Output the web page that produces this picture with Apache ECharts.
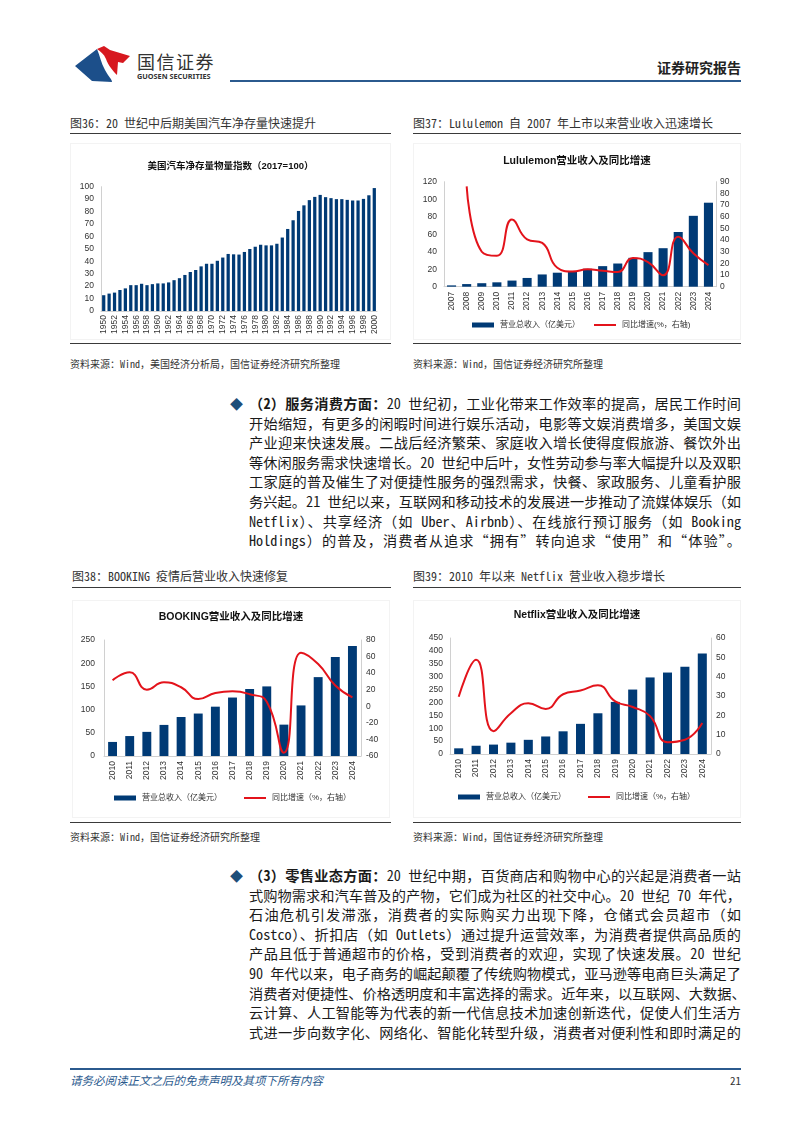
<!DOCTYPE html>
<html><head><meta charset="utf-8">
<script src="https://cdn.jsdelivr.net/npm/echarts@6/dist/echarts.min.js"></script>
<style>
html,body{margin:0;padding:0;background:#fff;}
body{width:811px;height:1131px;position:relative;overflow:hidden;font-family:"Noto Sans Mono CJK SC","Noto Sans CJK SC",sans-serif;color:#222;}
.abs{position:absolute;}
.cap{position:absolute;font-size:12px;line-height:16px;color:#333;white-space:nowrap;}
.rule{position:absolute;height:1px;background:#3a3a3a;}
.src{position:absolute;font-size:10px;line-height:14px;color:#333;white-space:nowrap;}
.ln{position:absolute;left:249px;width:492px;font-size:14.2px;line-height:19.6px;height:19.6px;text-align:justify;text-align-last:justify;white-space:nowrap;overflow:visible;color:#1a1a1a;}
.chart{position:absolute;border:1px solid #f3f3f3;box-sizing:border-box;}
b{font-weight:bold;}
</style></head>
<body>
<!-- header -->
<svg class="abs" style="left:0;top:0" width="811" height="100">
  <path d="M75,66 L97,49 C100,56 101,63 105,70 C108,76 112,79 112,82 L92,81 Z" fill="#1c4f8a"/>
  <path d="M97,49 L104,46 L110,50 L130,56 L123,63 L118,62 L117,75 C113,71 108,65 106,59 C104,54 100,51 97,49 Z" fill="#d7181f"/>
</svg>
<div class="abs" style="left:137px;top:49px;font-size:18px;line-height:24px;color:#333;letter-spacing:1.5px;font-family:'Noto Sans CJK SC';">国信证券</div>
<div class="abs" style="left:137px;top:71px;font-size:7.3px;line-height:10px;color:#333;font-weight:bold;font-family:'Noto Sans',sans-serif;white-space:nowrap;">GUOSEN SECURITIES</div>
<div class="abs" style="right:70px;top:58px;font-size:14px;line-height:18px;font-weight:bold;color:#222;font-family:'Noto Sans CJK SC';">证券研究报告</div>
<div class="abs" style="left:230px;top:80px;width:511px;height:2px;background:#2b5a8e;"></div>

<!-- captions top -->
<div class="cap" style="left:70px;top:115px;">图36：20 世纪中后期美国汽车净存量快速提升</div>
<div class="rule" style="left:70px;top:133px;width:321px;"></div>
<div class="cap" style="left:413px;top:115px;">图37：Lululemon 自 2007 年上市以来营业收入迅速增长</div>
<div class="rule" style="left:413px;top:133px;width:328px;"></div>

<div id="c1" class="chart" style="left:70px;top:143px;width:321px;height:197px;"></div>
<div id="c2" class="chart" style="left:413px;top:143px;width:328px;height:197px;"></div>

<div class="rule" style="left:70px;top:343px;width:321px;"></div>
<div class="rule" style="left:413px;top:343px;width:328px;"></div>
<div class="src" style="left:70px;top:357px;">资料来源：Wind，美国经济分析局，国信证券经济研究所整理</div>
<div class="src" style="left:413px;top:357px;">资料来源：Wind，国信证券经济研究所整理</div>

<!-- paragraph 2 -->
<div class="abs" style="left:230px;top:394px;font-size:13px;line-height:19.6px;color:#1f4e79;">◆</div>
<div class="ln" style="top:394px;"><b>（2）服务消费方面：</b>20 世纪初，工业化带来工作效率的提高，居民工作时间</div>
<div class="ln" style="top:413.6px;">开始缩短，有更多的闲暇时间进行娱乐活动，电影等文娱消费增多，美国文娱</div>
<div class="ln" style="top:433.2px;">产业迎来快速发展。二战后经济繁荣、家庭收入增长使得度假旅游、餐饮外出</div>
<div class="ln" style="top:452.8px;">等休闲服务需求快速增长。20 世纪中后叶，女性劳动参与率大幅提升以及双职</div>
<div class="ln" style="top:472.4px;">工家庭的普及催生了对便捷性服务的强烈需求，快餐、家政服务、儿童看护服</div>
<div class="ln" style="top:492px;">务兴起。21 世纪以来，互联网和移动技术的发展进一步推动了流媒体娱乐（如</div>
<div class="ln" style="top:511.6px;">Netflix）、共享经济（如 Uber、Airbnb）、在线旅行预订服务（如 Booking</div>
<div class="ln" style="top:531.2px;">Holdings）的普及，消费者从追求“拥有”转向追求“使用”和“体验”。</div>

<!-- captions bottom -->
<div class="cap" style="left:72px;top:568px;">图38：BOOKING 疫情后营业收入快速修复</div>
<div class="rule" style="left:72px;top:587px;width:319px;"></div>
<div class="cap" style="left:413px;top:568px;">图39：2010 年以来 Netflix 营业收入稳步增长</div>
<div class="rule" style="left:413px;top:587px;width:328px;"></div>

<div id="c3" class="chart" style="left:72px;top:600px;width:318px;height:218px;"></div>
<div id="c4" class="chart" style="left:413px;top:600px;width:328px;height:218px;"></div>

<div class="rule" style="left:70px;top:822px;width:321px;"></div>
<div class="rule" style="left:413px;top:822px;width:328px;"></div>
<div class="src" style="left:70px;top:830px;">资料来源：Wind，国信证券经济研究所整理</div>
<div class="src" style="left:413px;top:830px;">资料来源：Wind，国信证券经济研究所整理</div>

<!-- paragraph 3 -->
<div class="abs" style="left:230px;top:866px;font-size:13px;line-height:19.6px;color:#1f4e79;">◆</div>
<div class="ln" style="top:866px;"><b>（3）零售业态方面：</b>20 世纪中期，百货商店和购物中心的兴起是消费者一站</div>
<div class="ln" style="top:885.6px;">式购物需求和汽车普及的产物，它们成为社区的社交中心。20 世纪 70 年代，</div>
<div class="ln" style="top:905.2px;">石油危机引发滞涨，消费者的实际购买力出现下降，仓储式会员超市（如</div>
<div class="ln" style="top:924.8px;">Costco）、折扣店（如 Outlets）通过提升运营效率，为消费者提供高品质的</div>
<div class="ln" style="top:944.4px;">产品且低于普通超市的价格，受到消费者的欢迎，实现了快速发展。20 世纪</div>
<div class="ln" style="top:964px;">90 年代以来，电子商务的崛起颠覆了传统购物模式，亚马逊等电商巨头满足了</div>
<div class="ln" style="top:983.6px;">消费者对便捷性、价格透明度和丰富选择的需求。近年来，以互联网、大数据、</div>
<div class="ln" style="top:1003.2px;">云计算、人工智能等为代表的新一代信息技术加速创新迭代，促使人们生活方</div>
<div class="ln" style="top:1022.8px;">式进一步向数字化、网络化、智能化转型升级，消费者对便利性和即时满足的</div>

<!-- footer -->
<div class="abs" style="left:70px;top:1068px;width:671px;height:1.5px;background:#2b5a8e;"></div>
<div class="abs" style="left:70px;top:1072px;font-size:11.5px;line-height:16px;font-style:italic;color:#2b5a8e;font-family:'Noto Sans CJK SC';">请务必阅读正文之后的免责声明及其项下所有内容</div>
<div class="abs" style="right:70px;top:1072px;font-size:11px;line-height:16px;color:#333;">21</div>

<script>
// ---------- data ----------
const carYears = ['1950','1951','1952','1953','1954','1955','1956','1957','1958','1959',
  '1960','1961','1962','1963','1964','1965','1966','1967','1968','1969',
  '1970','1971','1972','1973','1974','1975','1976','1977','1978','1979',
  '1980','1981','1982','1983','1984','1985','1986','1987','1988','1989',
  '1990','1991','1992','1993','1994','1995','1996','1997','1998','1999','2000'];
const carIndex = [12.7,14,14.8,16.9,18.2,20.8,20.8,21.9,20.8,21.6,
  22.2,22.2,23,24.8,26.4,29,31.4,33,35.9,38,
  38,40.4,43,45.9,45.6,45.4,47.5,49.9,51.7,53.3,
  52.8,52.8,54.1,59.1,66,73,80.5,85,89.2,91.8,
  93.4,91.6,90.8,90,90,89.4,88.9,88.9,90.2,93.1,98.9];

const luluYears = ['2007','2008','2009','2010','2011','2012','2013','2014','2015','2016','2017','2018','2019','2020','2021','2022','2023','2024'];
const luluRevenue = [1.5,3,4,5,7,10,14,16,18,20.5,23.5,26.5,33,39.5,44,62.5,81,96];
const luluGrowth = [null,86,30,26.5,57.5,40.5,37.5,16.3,13,14.9,13.7,12.6,24.7,21,9.8,42.9,28.6,18.5];

const bkYears = ['2010','2011','2012','2013','2014','2015','2016','2017','2018','2019','2020','2021','2022','2023','2024'];
const bkRevenue = [30.3,43,52,67,84,91.5,106.3,126,144.4,150,67.6,109,170,213.4,237.3];
const bkGrowth = [31.5,41,20,29,23,8.7,16,18,14.6,5.5,-56,64.7,51,25,10.7];

const nfYears = ['2010','2011','2012','2013','2014','2015','2016','2017','2018','2019','2020','2021','2022','2023','2024'];
const nfRevenue = [22,32,36.5,44,55,68,88,117,158,202,250,297,316,338,390];
const nfGrowth = [29.6,48.7,11.8,21.1,26.2,23.3,30.9,32.8,35.5,27.2,24.3,19.6,6.1,7.4,16];

const barName = '营业总收入（亿美元）';
const lineNameFull = '同比增速（%，右轴）';
const lineNameHalf = '同比增速(%，右轴)';

// ---------- style ----------
const BAR = '#003a75', RED = '#e3131b', AX = '#d0d0d0', TXT = '#333';
const FF = '"Liberation Sans", Arial, "Noto Sans CJK SC", sans-serif';

function yAx(min, max, interval, pos, margin) {
  return {type:'value', min:min, max:max, interval:interval, position:pos,
    axisLine:{show:true, lineStyle:{color:AX}}, axisTick:{show:false}, splitLine:{show:false},
    axisLabel:{fontSize:8.5, color:TXT, fontFamily:FF, margin:margin}};
}
function xAx(cats, interval, margin) {
  return {type:'category', data:cats,
    axisLine:{show:true, lineStyle:{color:AX}}, axisTick:{show:false},
    axisLabel:{rotate:90, interval:interval, fontSize:8.5, color:TXT, fontFamily:FF, margin:margin}};
}
function title(text, top, size) {
  return {text:text, left:'center', top:top, padding:0,
    textStyle:{fontSize:size, fontWeight:'bold', color:'#111', fontFamily:FF}};
}
function legends(top, l1, l2, lineName) {
  const ts = {fontSize:8, color:TXT, fontFamily:FF, padding:[0,0,0,1]};
  return [
    {data:[{name:barName, icon:'rect'}], left:l1, top:top, padding:0, itemWidth:22, itemHeight:5, textStyle:ts},
    {data:[{name:lineName, icon:'rect'}], left:l2, top:top, padding:0, itemWidth:22, itemHeight:2, textStyle:ts}
  ];
}
function comboOption(t, tTop, grid, cats, rev, gr, yl, yr, legTop, l1, l2, lineName, barW, lm, rm) {
  return {
    animation:false,
    title:title(t, tTop, 10.5),
    legend:legends(legTop, l1, l2, lineName),
    grid:grid,
    xAxis:xAx(cats, 0, 5),
    yAxis:[yAx(yl[0], yl[1], yl[2], 'left', lm), yAx(yr[0], yr[1], yr[2], 'right', rm)],
    series:[
      {name:barName, type:'bar', data:rev, barWidth:barW, itemStyle:{color:BAR}},
      {name:lineName, type:'line', yAxisIndex:1, data:gr, smooth:true, showSymbol:false, symbol:'none',
       lineStyle:{color:RED, width:2}, itemStyle:{color:RED}}
    ]
  };
}

// chart 1
echarts.init(document.getElementById('c1')).setOption({
  animation:false,
  title:title('美国汽车净存量物量指数（2017=100）', 18, 9.5),
  grid:{left:30, right:13, top:42.7, bottom:28},
  xAxis:xAx(carYears, 1, 4),
  yAxis:yAx(0, 100, 10, 'left', 7),
  series:[{type:'bar', data:carIndex, barWidth:'60%', itemStyle:{color:BAR}}]
});

// chart 2
echarts.init(document.getElementById('c2')).setOption(
  comboOption('Lululemon营业收入及同比增速', 12, {left:30, right:24, top:37.7, bottom:52.3},
    luluYears, luluRevenue, luluGrowth, [0,120,20], [0,90,10], 177, 58, 180, lineNameHalf, '60%', 7, 4));

// chart 3
echarts.init(document.getElementById('c3')).setOption(
  comboOption('BOOKING营业收入及同比增速', 11, {left:31, right:28, top:39, bottom:61},
    bkYears, bkRevenue, bkGrowth, [0,250,50], [-60,80,20], 193, 41, 171, lineNameFull, '52%', 9, 5));

// chart 4
echarts.init(document.getElementById('c4')).setOption(
  comboOption('Netflix营业收入及同比增速', 9, {left:36, right:29, top:37, bottom:63},
    nfYears, nfRevenue, nfGrowth, [0,450,50], [0,60,10], 192, 44, 174, lineNameFull, '52%', 7, 5));
</script>
</body></html>
